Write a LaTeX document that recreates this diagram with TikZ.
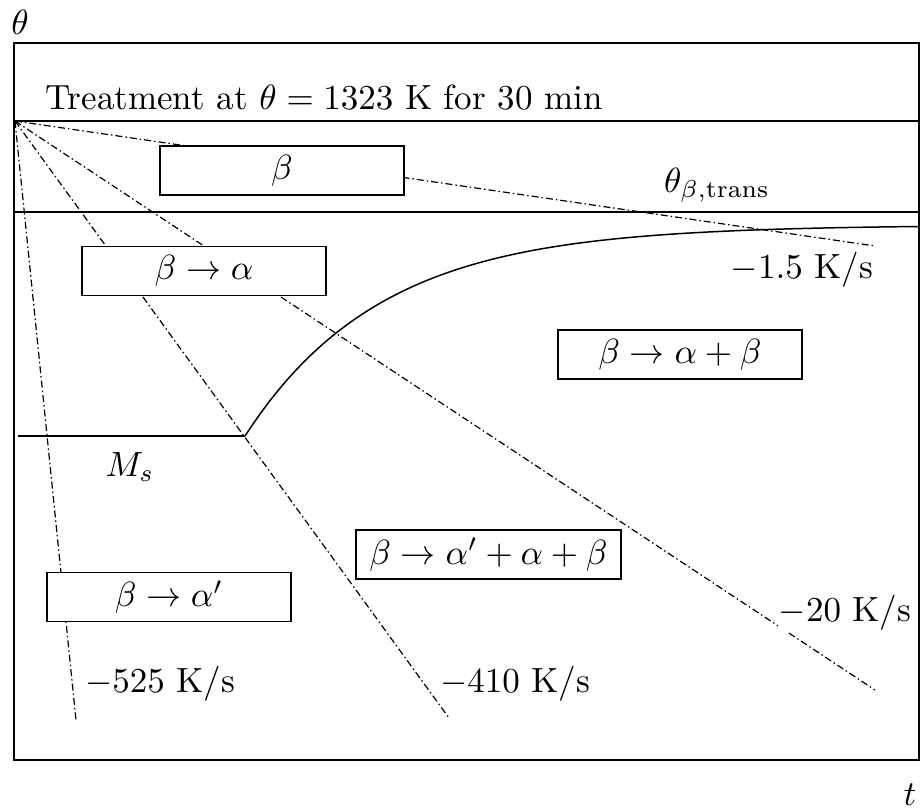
\documentclass[tikz,border=0pt]{standalone}
\usepackage{graphicx}
\newcommand\Sc[1]{\scalebox{3.5}{#1}}
\begin{document}
\begin{tikzpicture}[x=1pt,y=-1pt,
  every node/.style={font=\fontsize{10}{12}\selectfont},
  frame/.style={line width=2.6pt},
  thin/.style={line width=1.5pt},
  rate/.style={line width=1.2pt, dash pattern=on 7pt off 3pt on 1.5pt off 3pt},
  phase/.style={draw, line width=1.5pt, fill=white, minimum height=49pt, inner sep=0pt},
  lab/.style={inner sep=1pt}]
\useasboundingbox (0,0) rectangle (922,812);
% frame
\draw[frame] (14,43) rectangle (919,760);
\node[lab] (thetaax) at (20,22) {\Sc{$\theta$}};
\node[lab] (tax) at (910,795) {\Sc{$t$}};
% horizontal lines
\coordinate (O) at (15,121);
\coordinate (hA) at (919,121);
\coordinate (tL) at (15,212);
\coordinate (tR) at (919,212);
\draw[thin] (O) -- (hA);
\draw[thin] (tL) -- (tR);
\node[lab] (treat) at (324,98) {\Sc{Treatment at $\theta = 1323$ K for 30 min}};
% cooling lines
\coordinate (e15) at (875,246);
\coordinate (e20) at (875,690);
\coordinate (e410) at (449,718);
\coordinate (e525) at (76,720);
\draw[rate] (O) -- (e15);
\draw[rate] (O) -- (e20);
\draw[rate] (O) -- (e410);
\draw[rate] (O) -- (e525);
% Ms line and transformation curve
\coordinate (msL) at (18,436);
\coordinate (msR) at (245,436);
\draw[thin] (msL) -- (msR);
\draw[thin] plot[domain=245:919, samples=80] (\x, {225+211*exp(-(\x-245)/136)});
% phase boxes
\node[phase, minimum width=244pt] (b1) at (282,170.5) {\Sc{$\beta$}};
\node[phase, minimum width=244pt] (b2) at (204,271) {\Sc{$\beta\to\alpha$}};
\node[phase, minimum width=244pt] (b3) at (680,354.5) {\Sc{$\beta\to\alpha+\beta$}};
\node[phase, minimum width=265pt] (b4) at (488.5,554.5) {\Sc{$\beta\to\alpha'+\alpha+\beta$}};
\node[phase, minimum width=244pt] (b5) at (169,597) {\Sc{$\beta\to\alpha'$}};
% labels
\node[lab] (ltrans) at (717,185) {\Sc{$\theta_{\beta,\mathrm{trans}}$}};
\node[lab] (l15) at (802,270) {\Sc{$-1.5$ K/s}};
\node[lab] (lms) at (130,467) {\Sc{$M_s$}};
\node[lab, fill=white] (l20) at (845,613) {\Sc{$-20$ K/s}};
\node[lab] (l410) at (515,684) {\Sc{$-410$ K/s}};
\node[lab] (l525) at (160,684) {\Sc{$-525$ K/s}};
\end{tikzpicture}
\end{document}
